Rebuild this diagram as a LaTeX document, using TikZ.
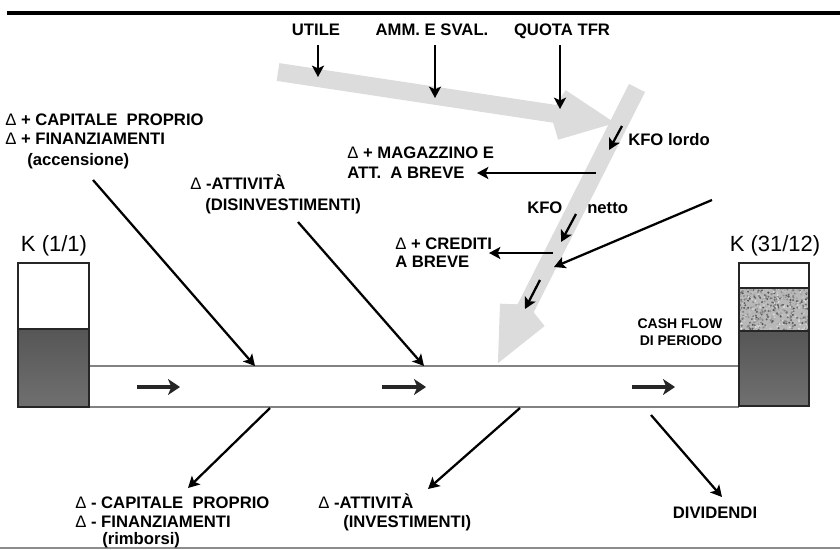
\documentclass[tikz,border=0pt]{standalone}
\usepackage{fontspec}
\setmainfont{Liberation Sans}
\usetikzlibrary{arrows.meta}
\definecolor{bandgray}{RGB}{220,220,220}
\definecolor{dkA}{RGB}{86,86,86}
\definecolor{dkB}{RGB}{112,112,112}
\definecolor{tubegray}{RGB}{130,130,130}
\newcommand{\dl}{\textmd{Δ}}
\begin{document}
\begin{tikzpicture}[x=0.75pt,y=-0.75pt,
  lbl/.style={font=\bfseries\fontsize{12.5}{15}\selectfont, inner sep=0pt,
              text height=8.9pt, text depth=0pt, anchor=west},
  small/.style={lbl, font=\bfseries\fontsize{10.5}{12}\selectfont, text height=7.5pt},
  klbl/.style={font=\fontsize{16.5}{18}\selectfont, inner sep=0pt, anchor=center},
  arr/.style={draw=black, line width=1.7pt, -{Stealth[length=8.5pt,width=9pt,inset=2pt]}},
  flowarr/.style={draw=black!85, line width=2.8pt, -{Stealth[length=9pt,width=12pt,inset=2.5pt]}},
  band/.style={draw=bandgray, line width=13.5pt, line join=miter, miter limit=10},
  boxline/.style={draw=black!85, line width=1.1pt},
  tube/.style={draw=tubegray, line width=1.1pt}]
\useasboundingbox (0,0) rectangle (840,550);

% frame lines
\draw[line width=2.3pt, black] (7,13) -- (840,13);
\draw[line width=1.1pt, black!45] (0,548) -- (840,548);

% wide grey flow arrows (funds from operations)
\coordinate (g1s) at (278,72);
\coordinate (g1c) at (594,119.8);
\draw[band] (g1s) -- (g1c);
\draw[band] (560.7,97.7) -- (g1c) -- (555.6,131.1);
\coordinate (g2s) at (637,88);
\coordinate (g2c) at (507.6,344);
\draw[band] (g2s) -- (g2c);
\draw[band] (509,304) -- (g2c) -- (539,319);

% capital tube between the two balances
\draw[tube] (89,366) -- (739,366);
\draw[tube] (89,407) -- (739,407);

% opening capital
\draw[boxline, fill=white] (18,263) rectangle (89,329);
\draw[boxline, top color=dkA, bottom color=dkB] (18,329) rectangle (89,407);
\node[klbl] (k0) at (54,246) {K (1/1)};

% closing capital, with the period's cash flow as a speckled band
\draw[boxline, fill=white] (739,263) rectangle (809,288);
\fill[black!28] (739,288) rectangle (809,331);
\begin{scope}
  \clip (739,288) rectangle (809,331);
  \pgfmathsetseed{11}
  \foreach \i in {1,...,520} {
    \pgfmathsetmacro{\px}{739+70*rnd}
    \pgfmathsetmacro{\py}{288+43*rnd}
    \pgfmathsetmacro{\gv}{int(10+60*rnd)}
    \fill[black!\gv] (\px,\py) circle (1.1);
  }
\end{scope}
\draw[boxline] (739,288) rectangle (809,331);
\draw[boxline, top color=dkA, bottom color=dkB] (739,331) rectangle (809,406);
\node[klbl] (k1) at (775,246) {K (31/12)};

% flow direction inside the tube
\coordinate (f1a) at (137,387); \coordinate (f1b) at (180,387);
\coordinate (f2a) at (382,387); \coordinate (f2b) at (426,387);
\coordinate (f3a) at (632,387); \coordinate (f3b) at (675,387);
\draw[flowarr] (f1a) -- (f1b);
\draw[flowarr] (f2a) -- (f2b);
\draw[flowarr] (f3a) -- (f3b);

% income items
\node[lbl, anchor=center] (utile) at (316,30) {UTILE};
\node[lbl, anchor=center] (amm) at (432,30) {AMM. E SVAL.};
\node[lbl, anchor=center] (tfr) at (562,30) {QUOTA TFR};
\coordinate (utA) at (318,45); \coordinate (utB) at (318,77);
\coordinate (amA) at (435,45); \coordinate (amB) at (435,98);
\coordinate (tfA) at (560,45); \coordinate (tfB) at (560,109);
\draw[arr] (utA) -- (utB);
\draw[arr] (amA) -- (amB);
\draw[arr] (tfA) -- (tfB);

% KFO
\node[lbl] (kfol) at (628,140) {KFO lordo};
\coordinate (klA) at (622,126); \coordinate (klB) at (609,150);
\draw[arr] (klA) -- (klB);
\node[lbl] (kfon1) at (527,208) {KFO};
\node[lbl] (kfon2) at (587,208) {netto};
\coordinate (knA) at (576,214); \coordinate (knB) at (561,242);
\draw[arr] (knA) -- (knB);
\coordinate (kcA) at (540,280); \coordinate (kcB) at (525,309);
\draw[arr] (kcA) -- (kcB);

% working capital changes
\node[lbl] (mag1) at (347,153) {\dl{} + MAGAZZINO E};
\node[lbl] (mag2) at (347,173) {ATT.\ \ A BREVE};
\coordinate (mgA) at (596,173); \coordinate (mgB) at (477,173);
\draw[arr] (mgA) -- (mgB);
\node[lbl] (cre1) at (395,244) {\dl{} + CREDITI};
\node[lbl] (cre2) at (395,262) {A BREVE};
\coordinate (crA) at (553,253); \coordinate (crB) at (489,253);
\draw[arr] (crA) -- (crB);
\coordinate (rtA) at (712,200); \coordinate (rtB) at (554,267);
\draw[arr] (rtA) -- (rtB);

% inflows
\node[lbl] (cp1) at (5,120) {\dl{} + CAPITALE\ \ PROPRIO};
\node[lbl] (cp2) at (5,139) {\dl{} + FINANZIAMENTI};
\node[lbl] (cp3) at (27,160) {(accensione)};
\coordinate (cpA) at (93,180); \coordinate (cpB) at (255,366);
\draw[arr] (cpA) -- (cpB);
\node[lbl] (dis1) at (190,184) {\dl{} -ATTIVITÀ};
\node[lbl] (dis2) at (205,205) {(DISINVESTIMENTI)};
\coordinate (dsA) at (298,222); \coordinate (dsB) at (424,366);
\draw[arr] (dsA) -- (dsB);

\node[small, anchor=center] (cf1) at (680,323) {CASH FLOW};
\node[small, anchor=center] (cf2) at (681,340) {DI PERIODO};

% outflows
\coordinate (rbA) at (270,408); \coordinate (rbB) at (188,488);
\draw[arr] (rbA) -- (rbB);
\node[lbl] (rb1) at (75,503) {\dl{} - CAPITALE\ \ PROPRIO};
\node[lbl] (rb2) at (75,522) {\dl{} - FINANZIAMENTI};
\node[lbl] (rb3) at (102,539) {(rimborsi)};
\coordinate (ivA) at (520,408); \coordinate (ivB) at (428,489);
\draw[arr] (ivA) -- (ivB);
\node[lbl] (iv1) at (318,503) {\dl{} -ATTIVITÀ};
\node[lbl] (iv2) at (343,522) {(INVESTIMENTI)};
\coordinate (dvA) at (651,415); \coordinate (dvB) at (722,497);
\draw[arr] (dvA) -- (dvB);
\node[lbl, anchor=center] (div) at (715,513) {DIVIDENDI};
\end{tikzpicture}
\end{document}
